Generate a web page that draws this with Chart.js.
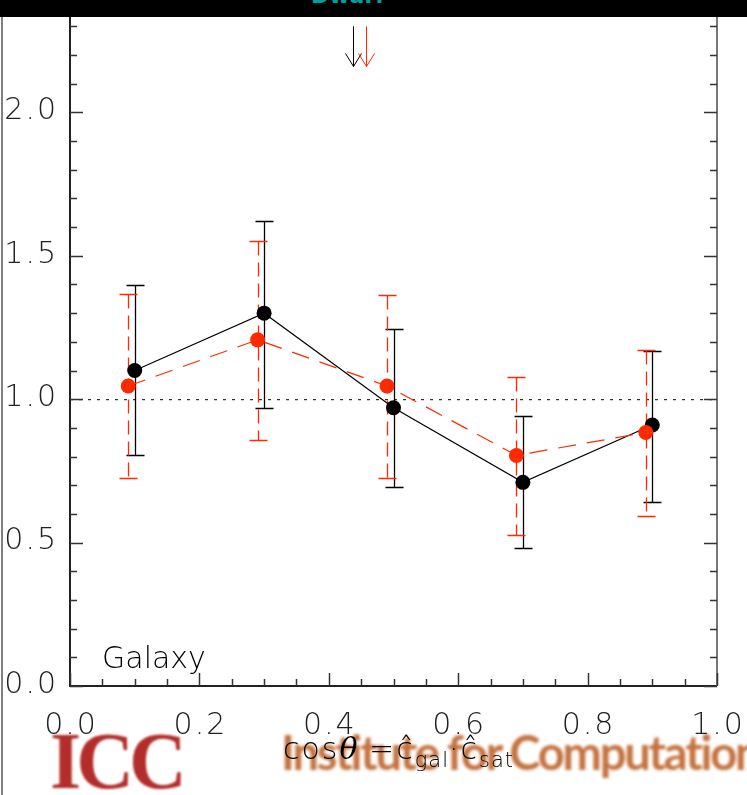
<!DOCTYPE html>
<html>
<head>
<meta charset="utf-8">
<script src="https://cdn.jsdelivr.net/npm/chart.js@4.4.1/dist/chart.umd.min.js"></script>
<style>
  body { margin: 0; background: #fff; }
  #wrap { position: relative; width: 747px; height: 795px; overflow: hidden; background: #fff; }
  #plot { position: absolute; left: 0; top: 0; }
  #topbar { position: absolute; left: 0; top: 0; width: 747px; height: 17px; background: #000; overflow: hidden; }
  #topbar span { position: absolute; left: 311px; top: -17px; color: #00a0a0; font: bold 22px "DejaVu Sans"; }
  #edge { position: absolute; left: 1px; top: 17px; width: 2px; height: 778px; background: #808080; }
  #icc { position: absolute; left: 50px; top: 716px; font: bold 80px "Liberation Serif"; color: #b32e2a; letter-spacing: -5px; filter: blur(1px); }
  #inst { position: absolute; left: 281px; top: 724px; font: bold 47px "Lato"; color: #c4723e; white-space: nowrap; filter: blur(1.8px); letter-spacing: -2.2px; }
  #xtitle { position: absolute; left: 283px; top: 731px; font: 200 30px "DejaVu Sans"; letter-spacing: 2px; color: #000; white-space: nowrap; }
  #xtitle i { font-family: "DejaVu Serif"; font-weight: normal; letter-spacing: 0; }
  #xtitle sub { font-size: 21px; vertical-align: -8px; letter-spacing: 1px; }
</style>
</head>
<body>
<div id="wrap">
  <div id="icc">ICC</div>
  <div id="inst">Institute for Computational</div>
  <canvas id="plot" width="747" height="795"></canvas>
  <div id="xtitle">cos<i>θ</i> =ĉ<sub>gal</sub>·ĉ<sub>sat</sub></div>
  <div id="edge"></div>
  <div id="topbar"><span>Dwarf</span></div>
</div>
<script>
// black sample
const xBlack = [0.10, 0.30, 0.50, 0.70, 0.90];
const yBlack = [1.10, 1.30, 0.97, 0.71, 0.91];
const loBlack = [0.805, 0.971, 0.695, 0.480, 0.642];
const hiBlack = [1.397, 1.622, 1.246, 0.941, 1.169];

// red sample (shifted slightly left)
const xRed = [0.09, 0.29, 0.49, 0.69, 0.89];
const yRed = [1.046, 1.207, 1.046, 0.804, 0.884];
const loRed = [0.725, 0.858, 0.726, 0.528, 0.593];
const hiRed = [1.367, 1.553, 1.364, 1.077, 1.172];

// mean arrows at the top
const arrowX = [0.437, 0.458];
const arrowColors = ["#000000", "#ff2a00"];
const arrowTop = 2.30;
const arrowTip = 2.16;

const xTicks = [0.0, 0.2, 0.4, 0.6, 0.8, 1.0];
const yTicks = [0.0, 0.5, 1.0, 1.5, 2.0];
const refLine = 1.0;
const panelLabel = "Galaxy";

const RED = "#ff2a00";
const tickFont = '200 30px "DejaVu Sans"';

function pts(xs, ys) {
    return xs.map((x, i) => ({ x: x, y: ys[i] }));
}

const axesPlugin = {
    id: "axesPlugin",
    beforeDatasetsDraw: (chart) => {
        const { ctx, chartArea: { left, right, top, bottom }, scales: { x, y } } = chart;
        ctx.save();

        // dotted reference line
        ctx.strokeStyle = "#000";
        ctx.lineWidth = 1;
        ctx.setLineDash([3, 6]);
        ctx.beginPath();
        ctx.moveTo(left, y.getPixelForValue(refLine) + 0.5);
        ctx.lineTo(right, y.getPixelForValue(refLine) + 0.5);
        ctx.stroke();
        ctx.setLineDash([]);

        // error bars
        drawBars(ctx, x, y, xBlack, loBlack, hiBlack, "#000", []);
        drawBars(ctx, x, y, xRed, loRed, hiRed, RED, [14, 7]);

        // arrows
        arrowX.forEach((ax, i) => {
            const px = Math.round(x.getPixelForValue(ax)) + 0.5;
            const y0 = y.getPixelForValue(arrowTop);
            const y1 = y.getPixelForValue(arrowTip);
            ctx.strokeStyle = arrowColors[i];
            ctx.lineWidth = 1;
            ctx.beginPath();
            ctx.moveTo(px, y0);
            ctx.lineTo(px, y1);
            ctx.moveTo(px - 8, y1 - 13);
            ctx.lineTo(px, y1);
            ctx.lineTo(px + 8, y1 - 13);
            ctx.stroke();
        });
        ctx.restore();
    },
    afterDraw: (chart) => {
        const { ctx, chartArea: { left, right, top, bottom }, scales: { x, y } } = chart;
        ctx.save();

        // frame
        ctx.lineWidth = 2;
        ctx.strokeStyle = "#222";
        ctx.beginPath();
        ctx.moveTo(left, top);
        ctx.lineTo(left, bottom);
        ctx.lineTo(right, bottom);
        ctx.stroke();
        ctx.strokeStyle = "#777";
        ctx.beginPath();
        ctx.moveTo(right, bottom);
        ctx.lineTo(right, top);
        ctx.stroke();

        // y ticks every 0.1, long every 0.5, both sides
        ctx.lineWidth = 1.5;
        ctx.strokeStyle = "#333";
        for (let k = 0; k <= 23; k++) {
            const py = Math.round(y.getPixelForValue(k / 10)) + 0.5;
            const len = k % 5 === 0 ? 13 : 7;
            ctx.beginPath();
            ctx.moveTo(left, py);
            ctx.lineTo(left + len, py);
            ctx.moveTo(right, py);
            ctx.lineTo(right - len, py);
            ctx.stroke();
        }
        // x ticks every 0.05, long every 0.2
        for (let k = 0; k <= 20; k++) {
            const px = Math.round(x.getPixelForValue(k / 20)) + 0.5;
            const len = k % 4 === 0 ? 13 : 7;
            ctx.beginPath();
            ctx.moveTo(px, bottom);
            ctx.lineTo(px, bottom - len);
            ctx.stroke();
        }

        // tick labels
        ctx.fillStyle = "#222";
        ctx.font = tickFont;
        ctx.letterSpacing = "2px";
        ctx.textBaseline = "middle";
        ctx.textAlign = "right";
        yTicks.forEach(v => {
            ctx.fillText(v.toFixed(1), left - 12, y.getPixelForValue(v) - 1);
        });
        ctx.textAlign = "center";
        xTicks.forEach(v => {
            ctx.fillText(v.toFixed(1), x.getPixelForValue(v) + 1, bottom + 40);
        });

        // panel label
        ctx.textAlign = "left";
        ctx.textBaseline = "alphabetic";
        ctx.font = '200 30px "DejaVu Sans"';
        ctx.letterSpacing = "0px";
        ctx.fillStyle = "#000";
        ctx.fillText(panelLabel, 102, 668);
        ctx.restore();
    }
};

function drawBars(ctx, x, y, xs, lo, hi, color, dash) {
    ctx.strokeStyle = color;
    ctx.lineWidth = 1.3;
    xs.forEach((v, i) => {
        const px = Math.round(x.getPixelForValue(v)) + 0.5;
        const pLo = Math.round(y.getPixelForValue(lo[i])) + 0.5;
        const pHi = Math.round(y.getPixelForValue(hi[i])) + 0.5;
        ctx.setLineDash(dash);
        ctx.beginPath();
        ctx.moveTo(px, pHi);
        ctx.lineTo(px, pLo);
        ctx.stroke();
        ctx.setLineDash([]);
        ctx.beginPath();
        ctx.moveTo(px - 9, pHi);
        ctx.lineTo(px + 9, pHi);
        ctx.moveTo(px - 9, pLo);
        ctx.lineTo(px + 9, pLo);
        ctx.stroke();
    });
}

new Chart(document.getElementById("plot").getContext("2d"), {
    type: "scatter",
    data: {
        datasets: [
            { data: pts(xBlack, yBlack), showLine: true, borderColor: "#000", borderWidth: 1.2,
              pointRadius: 7.5, pointBackgroundColor: "#000", pointBorderWidth: 0, order: 2 },
            { data: pts(xRed, yRed), showLine: true, borderColor: RED, borderWidth: 1.2, borderDash: [18, 11],
              pointRadius: 7.5, pointBackgroundColor: RED, pointBorderWidth: 0, order: 1 }
        ]
    },
    plugins: [axesPlugin],
    options: {
        responsive: false,
        animation: false,
        events: [],
        layout: { padding: { left: 70, right: 30, top: 12, bottom: 109 } },
        plugins: { legend: { display: false }, tooltip: { enabled: false } },
        scales: {
            x: { type: "linear", min: 0, max: 1, display: false },
            y: { type: "linear", min: 0, max: 2.35, display: false }
        }
    }
});
</script>
</body>
</html>
